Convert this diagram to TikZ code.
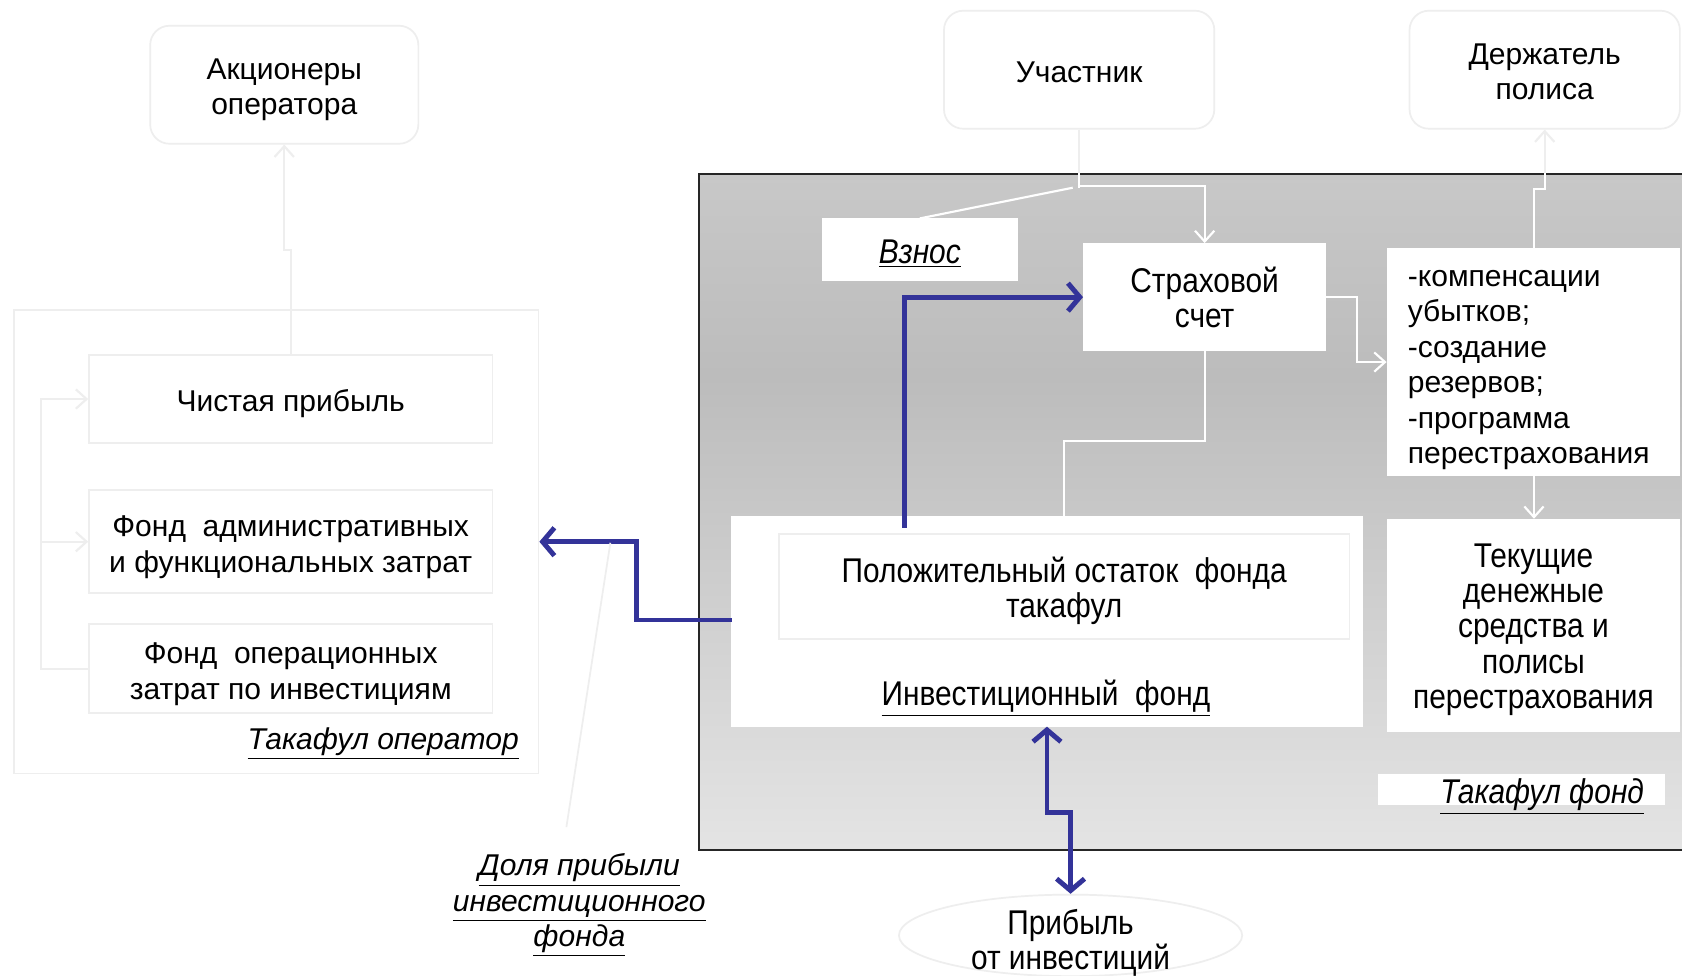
\documentclass[tikz,border=0pt]{standalone}
\usepackage{fontspec}
\setmainfont{Liberation Sans}
\newfontfamily\nar[FakeStretch=0.87]{Liberation Sans}
\usetikzlibrary{arrows.meta,shapes.geometric}
\definecolor{faint}{HTML}{EEEEEE}
\definecolor{blu}{HTML}{333399}
\definecolor{ftop}{HTML}{C8C8C8}
\definecolor{fmid}{HTML}{BCBCBC}
\definecolor{fbot}{HTML}{E4E4E4}
\pgfdeclareverticalshading{fundshade}{100bp}{color(0bp)=(fbot); color(25bp)=(fbot); color(60bp)=(fmid); color(75bp)=(ftop); color(100bp)=(ftop)}
\newcommand\myfs{\fontsize{14}{16.5}\selectfont}
\newcommand\myn{\nar\fontsize{16}{16.5}\selectfont}
\begin{document}
\begin{tikzpicture}[x=0.5pt,y=-0.5pt,
 every node/.style={font=\myfs, inner sep=0pt},
 rbox/.style={draw=faint, line width=0.8pt, rounded corners=9pt, fill=white},
 lbox/.style={draw=faint, line width=0.8pt},
 wbox/.style={fill=white, draw=white},
 wl/.style={draw=white, line width=1pt},
 fl/.style={draw=faint, line width=1pt},
 wtip/.style={-{Straight Barb[length=5pt,width=9pt]}},
 bl/.style={draw=blu, line width=2.3pt},
 btip/.style={-{Straight Barb[length=5.5pt,width=13pt]}},
 bbtip/.style={{Straight Barb[length=5.5pt,width=13pt]}-{Straight Barb[length=5.5pt,width=13pt]}},
]
\useasboundingbox (0,0) rectangle (1568,909);
\fill[white] (0,0) rectangle (1568,909);

% helper x coordinates
\coordinate (x271) at (271,0);
\coordinate (x1430) at (1430,0);
\coordinate (x976) at (976,0);

% ---------- operator side ----------
\node[rbox, minimum width=125pt, minimum height=55pt] (ak) at (265,79) {};
\node[align=center] (akt) at (265,83.5) {Акционеры\\оператора};
\node[lbox, minimum width=244.5pt, minimum height=216pt] (op) at (257.5,505) {};
\node[lbox, minimum width=188pt, minimum height=41pt] (cp) at (271,372) {};
\node (cpt) at (271,376) {Чистая прибыль};
\node[lbox, minimum width=188pt, minimum height=48pt] (fa) at (271,505) {};
\node[align=center] (fat) at (271,510) {Фонд\ \ административных\\и функциональных затрат};
\node[lbox, minimum width=188pt, minimum height=41.5pt] (fo) at (271,623.5) {};
\node[align=center] (fot) at (271,628.5) {Фонд\ \ операционных\\затрат по инвестициям};
\node[anchor=east] (tko) at (484,693) {\itshape\underline{Такафул оператор}};

\draw[fl, wtip] (cp.north -| x271) -- (271,233) -- (265,233) -- (ak.south);
\draw[fl, wtip] (fo.west) -- (38,623.5) |- (cp.west);
\draw[fl, wtip] (38,505) -- (fa.west);

% ---------- takaful fund ----------
\node[minimum width=474pt, minimum height=315pt, shading=fundshade, draw=black!85, line width=1pt] (fund) at (1126,477) {};

\node[rbox, minimum width=126pt, minimum height=55pt] (uc) at (1006,65) {};
\node (uct) at (1006,67) {Участник};
\node[rbox, minimum width=126pt, minimum height=55pt] (dp) at (1440,65) {};
\node[align=center] (dpt) at (1440,67) {Держатель\\полиса};

\node[wbox, minimum width=90.5pt, minimum height=28.5pt] (vz) at (857.5,232.5) {};
\node[font=\myn] (vzt) at (857.5,236.5) {\itshape\underline{Взнос}};
\node[wbox, minimum width=113pt, minimum height=50pt, align=center, font=\myn] (st) at (1123,277) {Страховой\\счет};
\node[wbox, minimum width=136.5pt, minimum height=105.5pt] (comp) at (1429.5,337.5) {};
\node[anchor=west, align=left] (compt) at (1312,345) {-компенсации\\убытков;\\-создание\\резервов;\\-программа\\перестрахования};
\node[wbox, minimum width=136.5pt, minimum height=99pt] (tk) at (1429.5,583) {};
\node[align=center, font=\myn] (tkt) at (1429.5,587) {Текущие\\денежные\\средства и\\полисы\\перестрахования};

\node[wbox, minimum width=294pt, minimum height=98pt] (inv) at (976,579) {};
\node[lbox, minimum width=266pt, minimum height=49pt] (pos) at (992,547) {};
\node[align=center, font=\myn] (post) at (992,551) {Положительный остаток\ \ фонда\\такафул};
\node[font=\myn] (invt) at (975,651) {\underline{Инвестиционный\ \ фонд}};

\node[wbox, minimum width=133.5pt, minimum height=14pt] (tfb) at (1418.5,736) {};
\node[anchor=east, font=\myn] (tft) at (1533,743) {\itshape\underline{Такафул фонд}};

\node[ellipse, draw=faint, line width=0.8pt, fill=white, minimum width=160pt, minimum height=38pt] (pr) at (998,872) {};
\node[align=center, font=\myn] (prt) at (998,879) {Прибыль\\от инвестиций};

\node[align=center] (dol) at (540,844) {\itshape\underline{Доля прибыли}\\\itshape\underline{инвестиционного}\\\itshape\underline{фонда}};

% connectors crossing the frame top: faint outside, white inside
\draw[fl] (uc.south) -- (1006,175);
\draw[fl, wtip] (comp.north -| x1430) -- (1430,176) -- (1440,176) -- (dp.south);
\begin{scope}
\clip (652,162) rectangle (1600,792);
\draw[wl] (uc.south) -- (1006,175);
\draw[wl] (comp.north -| x1430) -- (1430,176) -- (1440,176) -- (dp.south);
\end{scope}

% white connectors
\draw[wl, wtip] (1006,173) -| (st.north);
\draw[wl] (1000,175) -- (vz.north);
\draw[wl, wtip] (st.east) -- (1265,277) |- (comp.west);
\draw[wl, wtip] (st.south) -- (1123,411) -| (pos.north);
\draw[wl, wtip] (comp.south -| x1430) -- (tk.north -| x1430);

% blue connectors
\coordinate (b1) at (843,492);
\draw[bl, btip] (b1) |- (st.west);
\coordinate (b2) at (682,578);
\draw[bl, btip] (b2) -| (593,505) -- (op.east);
\draw[bl, bbtip] (inv.south -| x976) -- (976,757) -- (998,757) -- (pr.north);

% faint callout
\coordinate (c1) at (569,506);
\draw[faint, line width=0.8pt] (c1) -- (528,771);
\end{tikzpicture}
\end{document}
